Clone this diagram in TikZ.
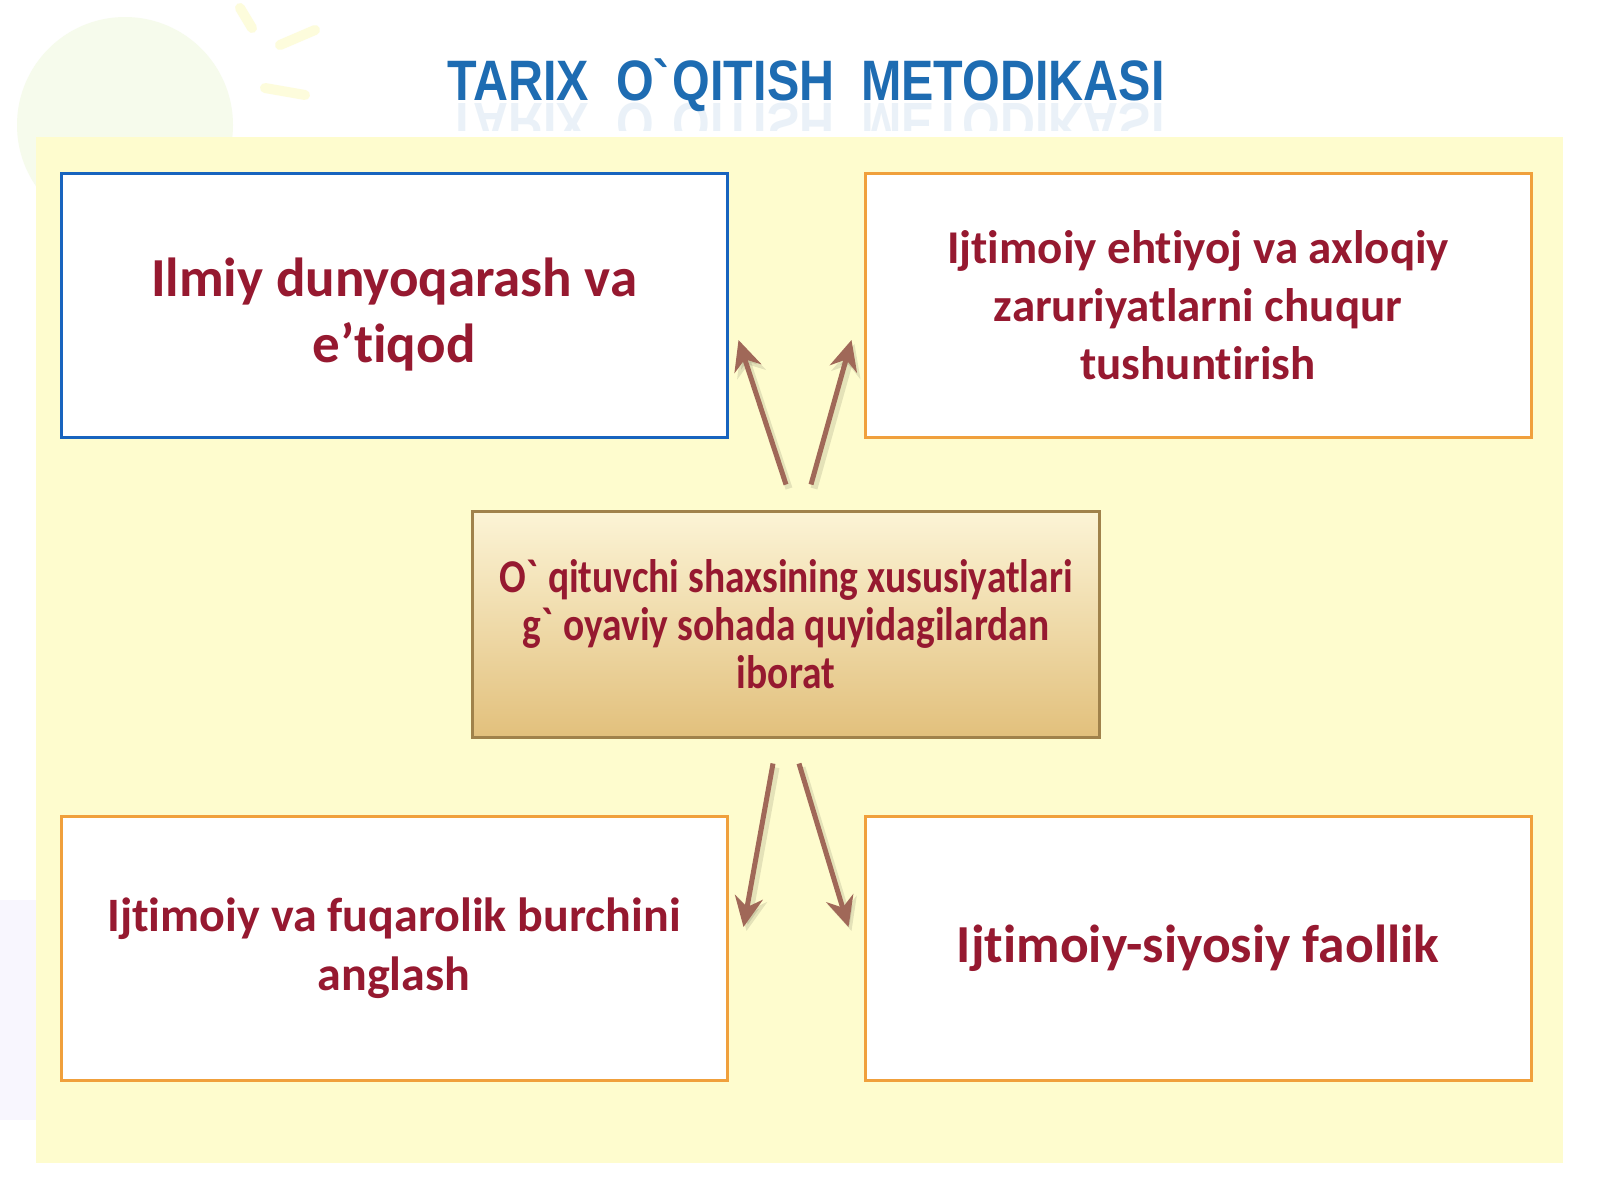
\documentclass[tikz,border=0pt]{standalone}
\usepackage{fontspec}
\setmainfont[Ligatures={TeX,NoCommon}]{Carlito}
\newfontfamily\titlefont[FakeStretch=0.85]{Liberation Sans}
\newfontfamily\narrowfont[FakeStretch=0.84, Ligatures=NoCommon]{Carlito}
\usetikzlibrary{positioning, calc, arrows.meta}
\definecolor{panelBg}{RGB}{254, 252, 206}
\definecolor{sunGreen}{RGB}{246, 251, 236}
\definecolor{sunRay}{RGB}{253, 252, 220}
\definecolor{lilac}{RGB}{248, 246, 254}
\definecolor{blueBoxFg}{RGB}{24, 100, 190}
\definecolor{orangeBoxFg}{RGB}{240, 160, 60}
\definecolor{goldFg}{RGB}{160, 130, 75}
\definecolor{goldTop}{RGB}{252, 244, 214}
\definecolor{goldBottom}{RGB}{226, 192, 124}
\definecolor{textRed}{RGB}{150, 25, 48}
\definecolor{titleBlue}{RGB}{30, 108, 178}
\definecolor{arrowBrown}{RGB}{160, 104, 88}
\tikzstyle{arrow} = [line width=5pt, draw=arrowBrown, -{Stealth[length=30pt, width=28pt]}]
\tikzstyle{arrowshadow} = [line width=7pt, draw=black, opacity=0.1, -{Stealth[length=32pt, width=30pt]}, transform canvas={shift={(3pt,-4pt)}}]
\tikzstyle{basic} = [rectangle, inner sep=0pt, line width=3pt, minimum width=666pt, minimum height=264pt, align=center, fill=white, text=textRed]
\tikzstyle{bluestyle} = [draw=blueBoxFg]
\tikzstyle{orangestyle} = [draw=orangeBoxFg]
\tikzstyle{goldstyle} = [draw=goldFg, top color=goldTop, bottom color=goldBottom]
\tikzstyle{titlestyle} = [font=\titlefont\bfseries\fontsize{57}{57}\selectfont, text=titleBlue, inner sep=0pt]

\begin{document}
\begin{tikzpicture}[x=1pt, y=-1pt]

\useasboundingbox (0,0) rectangle (1600,1200);
\fill[white] (0,0) rectangle (1600,1200);
% faint sun behind the corner
\fill[sunGreen] (125,125) circle (108);
\draw[sunRay, line width=10pt, line cap=round] (240,8) -- (252,28);
\draw[sunRay, line width=10pt, line cap=round] (280,45) -- (315,30);
\draw[sunRay, line width=10pt, line cap=round] (265,88) -- (305,95);
\fill[lilac] (0,900) rectangle (36,1120);
\fill[panelBg] (36,137) rectangle (1563,1163);

\node (title) [titlestyle, anchor=base] at (806,100) {TARIX\ \ O\textasciigrave QITISH\ \ METODIKASI};
% mirrored copy under the title
\begin{scope}
\clip (0,102) rectangle (1600,130);
\node (mirror) [titlestyle, opacity=0.09, yscale=-1, anchor=base] at ($(title.base)+(0,3)$) {TARIX\ \ O\textasciigrave QITISH\ \ METODIKASI};
\end{scope}

\node (ilmiy) [basic, bluestyle, font=\bfseries\fontsize{55}{66}\selectfont] at (394,305) {\\[-8pt]Ilmiy dunyoqarash va\\e’tiqod};
\node (ehtiyoj) [basic, orangestyle, anchor=west, xshift=135pt, font=\bfseries\fontsize{47}{58}\selectfont] at(ilmiy.east) {Ijtimoiy ehtiyoj va axloqiy\\zaruriyatlarni chuqur\\tushuntirish};
\node (burch) [basic, orangestyle, anchor=north, yshift=-376pt, font=\bfseries\fontsize{48}{59}\selectfont] at(ilmiy.south) {Ijtimoiy va fuqarolik burchini\\anglash};
\node (faollik) [basic, orangestyle, anchor=west, xshift=135pt, font=\bfseries\fontsize{53.5}{60}\selectfont] at(burch.east) {Ijtimoiy-siyosiy faollik};

\node (centre) [basic, goldstyle, minimum width=627pt, minimum height=226pt, font=\narrowfont\bfseries\fontsize{47}{48}\selectfont] at (786,624) {O\textasciigrave\,qituvchi shaxsining xususiyatlari\\g\textasciigrave\,oyaviy sohada quyidagilardan\\iborat};

\draw[arrowshadow] ($(centre.north)+(0,-25)$) -- ($(ilmiy.east)+(10,35)$);
\draw[arrowshadow] ($(centre.north)+(25,-25)$) -- ($(ehtiyoj.west)+(-12,35)$);
\draw[arrowshadow] ($(centre.south)+(-13,25)$) -- ($(burch.east)+(15,-21)$);
\draw[arrowshadow] ($(centre.south)+(13,25)$) -- ($(faollik.west)+(-15,-21)$);
\draw[arrow] ($(centre.north)+(0,-25)$) -- ($(ilmiy.east)+(10,35)$);
\draw[arrow] ($(centre.north)+(25,-25)$) -- ($(ehtiyoj.west)+(-12,35)$);
\draw[arrow] ($(centre.south)+(-13,25)$) -- ($(burch.east)+(15,-21)$);
\draw[arrow] ($(centre.south)+(13,25)$) -- ($(faollik.west)+(-15,-21)$);

\end{tikzpicture}
\end{document}
